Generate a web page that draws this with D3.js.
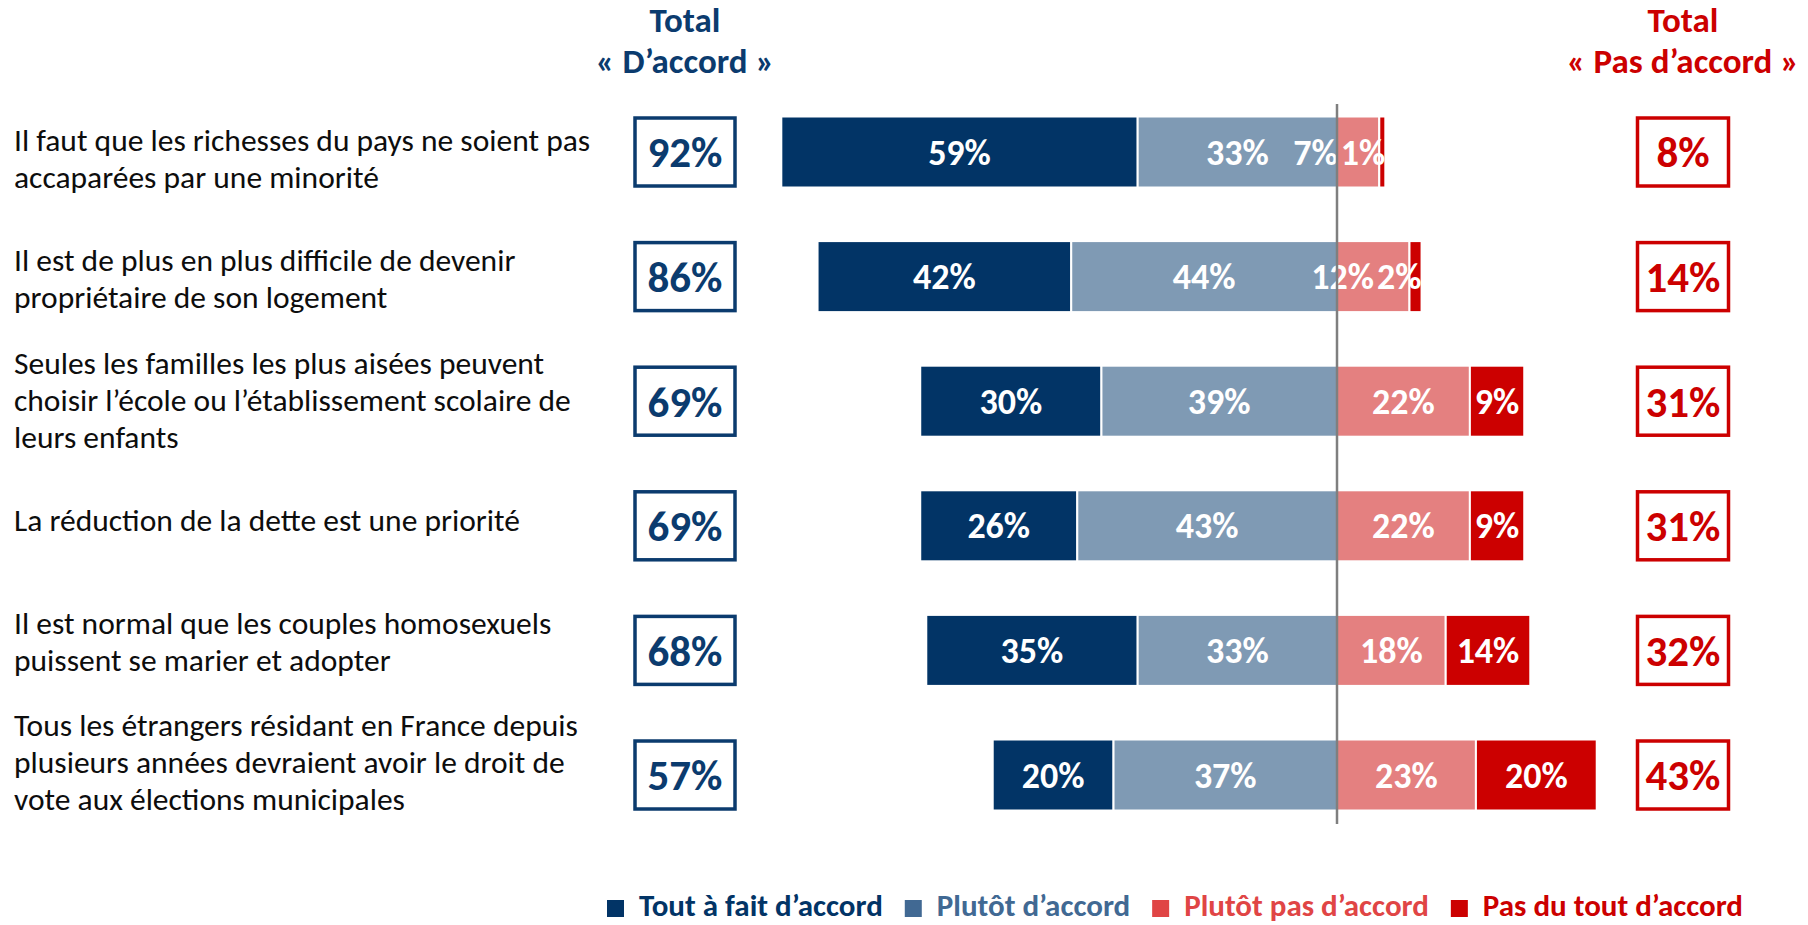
<!DOCTYPE html>
<html>
<head>
<meta charset="utf-8">
<title>D'accord / Pas d'accord</title>
<style>
    body { margin: 0; background: #fff; }
    svg { display: block; font-family: Calibri, Carlito, Lato, sans-serif; }
    .stmt { font-size: 31.5px; fill: #0d0d0d; }
    .seglabel { font-size: 36px; font-weight: 700; fill: #fff; }
    .boxtext { font-size: 43px; font-weight: 700; }
    .head { font-size: 35px; font-weight: 700; }
    .legend text { font-size: 31px; font-weight: 700; }
</style>
<script src="https://cdn.jsdelivr.net/npm/d3@7"></script>
</head>
<body>
<script>
// --- data ---
const statements = [
    ["Il faut que les richesses du pays ne soient pas", "accaparées par une minorité"],
    ["Il est de plus en plus difficile de devenir", "propriétaire de son logement"],
    ["Seules les familles les plus aisées peuvent", "choisir l’école ou l’établissement scolaire de", "leurs enfants"],
    ["La réduction de la dette est une priorité"],
    ["Il est normal que les couples homosexuels", "puissent se marier et adopter"],
    ["Tous les étrangers résidant en France depuis", "plusieurs années devraient avoir le droit de", "vote aux élections municipales"]
];
const toutAFait = [59, 42, 30, 26, 35, 20];
const plutot = [33, 44, 39, 43, 33, 37];
const plutotPas = [7, 12, 22, 22, 18, 23];
const pasDuTout = [1, 2, 9, 9, 14, 20];
const totalAccord = [92, 86, 69, 69, 68, 57];
const totalPasAccord = [8, 14, 31, 31, 32, 43];

const seriesNames = ["Tout à fait d’accord", "Plutôt d’accord", "Plutôt pas d’accord", "Pas du tout d’accord"];
const barColors = ["#023466", "#7f9ab4", "#e48080", "#cc0000"];
const legendColors = ["#023466", "#416993", "#e04545", "#cc0000"];
const blue = "#0b3b6e", red = "#cc0000";

const W = 1808, H = 925;
const svg = d3.select("body").append("svg").attr("width", W).attr("height", H);

const rows = d3.range(statements.length);
const x = d3.scaleLinear().domain([-100, 100]).range([1337 - 604, 1337 + 604]);
const y = d3.scalePoint().domain(rows).range([152, 775]);
// statement text sits on a slightly tighter pitch than the bars
const yText = d3.scalePoint().domain(rows).range([159, 763]);
const barH = 71;

// --- headers ---
function header(cx, lines, color) {
    const t = svg.append("text").attr("class", "head").attr("text-anchor", "middle").attr("fill", color);
    lines.forEach((l, i) => t.append("tspan").attr("x", cx).attr("y", 32 + i * 41).text(l));
}
const leftBoxX = 685, rightBoxX = 1683;
header(leftBoxX, ["Total", "« D’accord »"], blue);
header(rightBoxX, ["Total", "« Pas d’accord »"], red);

// --- statements ---
rows.forEach(i => {
    const lines = statements[i];
    const lh = 37;
    const y0 = yText(i) - (lines.length - 1) * lh / 2 + 10;
    const t = svg.append("text").attr("class", "stmt");
    lines.forEach((l, k) => t.append("tspan").attr("x", 14).attr("y", y0 + k * lh).text(l));
});

// --- stacked bars ---
const segs = rows.map(i => {
    const a = toutAFait[i], b = plutot[i], c = plutotPas[i], d = pasDuTout[i];
    return [
        { row: i, s: 0, v: a, x0: -(a + b), x1: -b },
        { row: i, s: 1, v: b, x0: -b, x1: 0 },
        { row: i, s: 2, v: c, x0: 0, x1: c },
        { row: i, s: 3, v: d, x0: c, x1: c + d }
    ];
});

const barG = svg.append("g");
barG.selectAll("rect")
    .data(segs.flat())
    .enter().append("rect")
    .attr("x", d => x(d.x0))
    .attr("y", d => y(d.row) - barH / 2)
    .attr("width", d => x(d.x1) - x(d.x0))
    .attr("height", barH)
    .attr("fill", d => barColors[d.s])
    .attr("stroke", "#fff")
    .attr("stroke-width", 2);

// labels: centred, but narrow right-hand segments get pushed left so they don't collide
segs.forEach(row => {
    const cy = y(row[0].row);
    const lbl = row.map(d => {
        const t = barG.append("text").attr("class", "seglabel")
            .attr("text-anchor", "middle").attr("y", cy).attr("dy", "0.35em")
            .text(d.v + "%");
        return { d: d, t: t, w: t.node().getComputedTextLength() };
    });
    let limit = x(row[3].x1);
    for (let k = 3; k >= 0; k--) {
        const L = lbl[k];
        let cx = (x(L.d.x0) + x(L.d.x1)) / 2;
        if (cx + L.w / 2 > limit) cx = limit - L.w / 2;
        L.t.attr("x", cx);
        limit = cx - L.w / 2 - 3;
    }
});

// centre line
svg.append("line")
    .attr("x1", x(0)).attr("x2", x(0))
    .attr("y1", 104).attr("y2", 824)
    .attr("stroke", "#7f7f7f").attr("stroke-width", 2.5);

// --- total boxes ---
function boxes(cx, w, vals, color) {
    const g = svg.append("g");
    g.selectAll("rect").data(vals).enter().append("rect")
        .attr("x", cx - w / 2)
        .attr("y", (d, i) => y(i) - 34)
        .attr("width", w).attr("height", 68)
        .attr("fill", "#fff").attr("stroke", color).attr("stroke-width", 3.5);
    g.selectAll("text").data(vals).enter().append("text")
        .attr("class", "boxtext")
        .attr("text-anchor", "middle")
        .attr("x", cx).attr("y", (d, i) => y(i)).attr("dy", "0.36em")
        .attr("fill", color)
        .text(d => d + "%");
}
boxes(leftBoxX, 100, totalAccord, blue);
boxes(rightBoxX, 91, totalPasAccord, red);

// --- legend ---
const legend = svg.append("g").attr("class", "legend");
let lx = 607;
seriesNames.forEach((n, i) => {
    legend.append("rect").attr("x", lx).attr("y", 900).attr("width", 17).attr("height", 17)
        .attr("fill", legendColors[i]);
    const t = legend.append("text").attr("x", lx + 32).attr("y", 916)
        .attr("fill", legendColors[i]).text(n);
    lx += 32 + t.node().getComputedTextLength() + 22;
});
</script>
</body>
</html>
